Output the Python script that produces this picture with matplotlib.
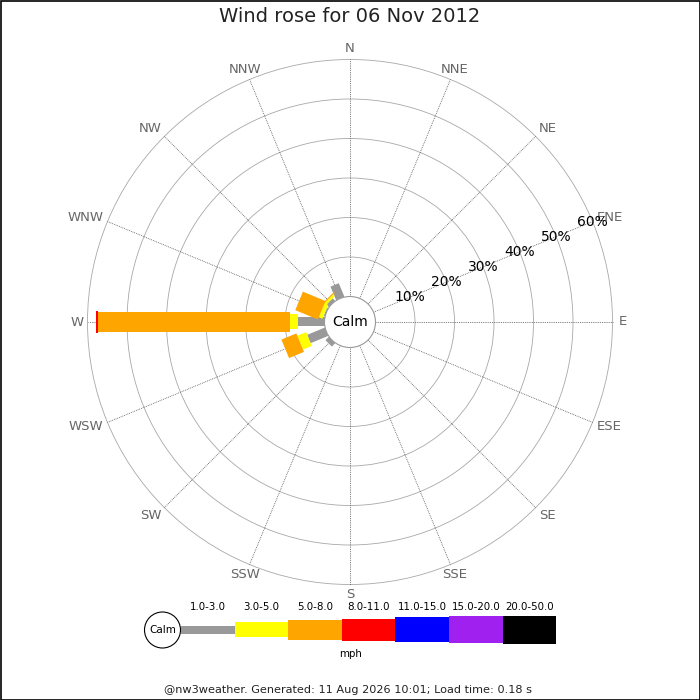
import matplotlib
matplotlib.use('Agg')
import matplotlib.pyplot as plt
import numpy as np
from matplotlib.patches import Rectangle, Circle
from matplotlib.transforms import Affine2D

# Data: percentage of time per direction and speed class (mph)
directions = ['N', 'NNE', 'NE', 'ENE', 'E', 'ESE', 'SE', 'SSE',
              'S', 'SSW', 'SW', 'WSW', 'W', 'WNW', 'NW', 'NNW']
speed_bins = ['1.0-3.0', '3.0-5.0', '5.0-8.0', '8.0-11.0',
              '11.0-15.0', '15.0-20.0', '20.0-50.0']
bin_colors = ['#999999', '#ffff00', '#ffa500', '#ff0000',
              '#0000ff', '#a020f0', '#000000']

pct_1_3 = [0, 0, 0, 0, 0, 0, 0, 0, 0, 0, 1.2, 4.8, 6.7, 0.3, 0.9, 3.7]
pct_3_5 = [0, 0, 0, 0, 0, 0, 0, 0, 0, 0, 0, 2.4, 2.0, 1.0, 0.6, 0]
pct_5_8 = [0, 0, 0, 0, 0, 0, 0, 0, 0, 0, 0, 4.1, 48.6, 6.2, 0.3, 0]
pct_8_11 = [0, 0, 0, 0, 0, 0, 0, 0, 0, 0, 0, 0, 0.45, 0, 0, 0]
pct_11_15 = [0] * 16
pct_15_20 = [0] * 16
pct_20_50 = [0] * 16

rings = [10, 20, 30, 40, 50, 60]

title = 'Wind rose for 06 Nov 2012'
footer = '@nw3weather. Generated: 11 Aug 2026 10:01; Load time: 0.18 s'

# Geometry (pixels)
PX = 3.95          # pixels per percent
CALM_PX = 25.5     # calm circle radius
bar_px = [9, 15, 20, 22, 25, 27, 28]
cx, cy = 350, 322
half = 290

calm_r = CALM_PX / PX
table = np.array([pct_1_3, pct_3_5, pct_5_8, pct_8_11,
                  pct_11_15, pct_15_20, pct_20_50])

fig = plt.figure(figsize=(7, 7), dpi=100)

# background axes in pixel coordinates for legend / text / frame
bg = fig.add_axes([0, 0, 1, 1])
bg.set_xlim(0, 700)
bg.set_ylim(700, 0)
bg.axis('off')
bg.add_patch(Rectangle((0.5, 0.5), 699, 699, fill=False, ec='black', lw=1.2))

# rose axes in percent units
ax = fig.add_axes([(cx - half) / 700, (700 - cy - half) / 700,
                   2 * half / 700, 2 * half / 700])
ax.set_xlim(-half / PX, half / PX)
ax.set_ylim(-half / PX, half / PX)
ax.set_aspect('equal')
ax.axis('off')
ax.patch.set_alpha(0)

outer = calm_r + rings[-1]
for r in rings:
    ax.add_patch(Circle((0, 0), calm_r + r, fill=False, ec='#a8a8a8', lw=0.6, zorder=1))

angles = np.arange(16) * 22.5
for a, name in zip(angles, directions):
    t = np.radians(a)
    ax.plot([calm_r * np.sin(t), outer * np.sin(t)],
            [calm_r * np.cos(t), outer * np.cos(t)],
            ls=(0, (1, 1.2)), color='#555555', lw=0.6, zorder=1)
    s, c = np.sin(t), np.cos(t)
    if abs(s) < 0.5 or abs(s) > 0.99:
        ha, rl, dy = 'center', 273 / PX, 0
    else:
        ha, rl, dy = ('left' if s > 0 else 'right'), 267 / PX, 7 / PX * c
    ax.text(rl * s, rl * c + dy, name, ha=ha, va='center',
            fontsize=9.5, color='#666666')

# bars: rectangles along each direction, stacked outwards
for i, a in enumerate(angles):
    start = calm_r
    for k in range(len(speed_bins)):
        v = table[k, i]
        if v <= 0:
            continue
        w = bar_px[k] / PX
        rect = Rectangle((start, -w / 2), v, w, fc=bin_colors[k], ec='none', zorder=3 + k)
        rect.set_transform(Affine2D().rotate_deg(90 - a) + ax.transData)
        ax.add_patch(rect)
        start += v

ax.add_patch(Circle((0, 0), calm_r, fc='white', ec='#999999', lw=0.8, zorder=20))
ax.text(0, 0, 'Calm', ha='center', va='center', fontsize=10, zorder=21)

# ring labels along ENE
t = np.radians(67.5)
for r in rings:
    rr = calm_r + r
    ax.text(rr * np.sin(t), rr * np.cos(t), f'{r}%', ha='center', va='center',
            fontsize=10, color='black', zorder=22)

# title and footer
bg.text(350, 17, title, ha='center', va='center', fontsize=14, color='#222222')
bg.text(348, 690, footer, ha='center', va='center', fontsize=8.1, color='#222222')

# legend
leg_y = 629.5
bg.add_patch(Circle((162.5, 630), 18, fc='white', ec='black', lw=0.8))
bg.text(162.5, 630, 'Calm', ha='center', va='center', fontsize=7.5)
x0, seg = 181, 53.6
for k, (lab, col) in enumerate(zip(speed_bins, bin_colors)):
    h = bar_px[k] if k > 0 else 8
    bg.add_patch(Rectangle((x0 + k * seg, leg_y - h / 2), seg, h, fc=col, ec='none'))
    bg.text(x0 + (k + 0.5) * seg, 607, lab, ha='center', va='center', fontsize=7.4)
bg.text(351, 654, 'mph', ha='center', va='center', fontsize=7.4)

fig.savefig('out.png', dpi=100)
